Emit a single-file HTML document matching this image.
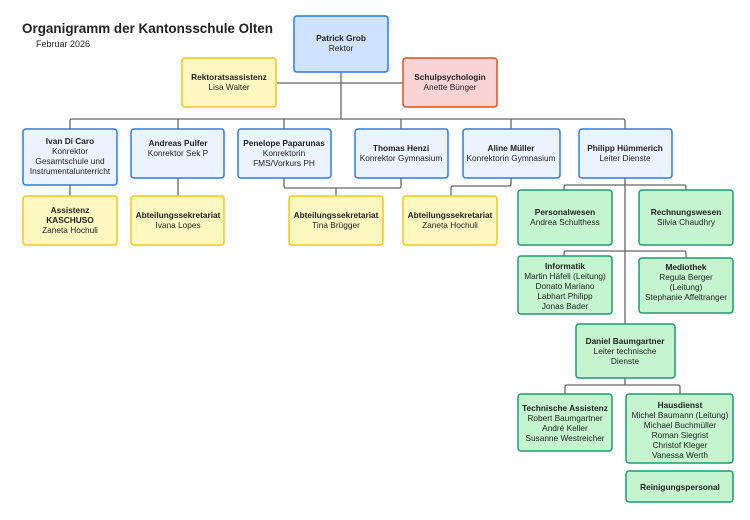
<!DOCTYPE html>
<html><head><meta charset="utf-8"><style>
html,body{margin:0;padding:0;background:#fff;}
svg{display:block;font-family:"Liberation Sans",Arial,sans-serif;}
text{font-size:8.3px;fill:#222;text-anchor:middle;}
.b{font-weight:bold;}
</style></head><body>
<svg width="750" height="520" viewBox="0 0 750 520" xmlns="http://www.w3.org/2000/svg">
<text x="22" y="33" textLength="251" lengthAdjust="spacingAndGlyphs" style="font-size:14px;font-weight:bold;text-anchor:start;fill:#222">Organigramm der Kantonsschule Olten</text>
<text x="36" y="47" style="font-size:9px;text-anchor:start">Februar 2026</text>
<g fill="none" stroke="#666" stroke-width="1.3">
<path d="M341 72V119M277 83H403M70 129V121Q70 119 72 119H623Q625 119 625 121V129M178 119V129M284 119V129M401 119V129M511 119V129"/>
<path d="M70 185V196M178 178V196M284 178V186Q284 188 286 188H399Q401 188 401 186V178M336 188V196M511 178V184Q511 186 509 186H453Q451 186 451 188V196"/>
<path d="M625 178V324M564 190V187Q564 185 566 185H684Q686 185 686 187V190M564 256V253Q564 251 566 251H684Q686 251 686 253V258M625 378V385M565 394V387Q565 385 567 385H678Q680 385 680 387V394"/>
</g>
<g stroke-width="1.5">
<rect x="294" y="16" width="94" height="56" rx="3" fill="#cfe2ff" stroke="#2a7de1"/>
<rect x="182" y="58" width="94" height="49" rx="3" fill="#fdf8c0" stroke="#f5c518"/>
<rect x="403" y="58" width="94" height="49" rx="3" fill="#fad4d4" stroke="#d9541e"/>
<g fill="#eaf3ff" stroke="#2a7de1">
<rect x="23" y="129" width="94" height="56" rx="3"/>
<rect x="131" y="129" width="93" height="49" rx="3"/>
<rect x="238" y="129" width="93" height="49" rx="3"/>
<rect x="355" y="129" width="93" height="49" rx="3"/>
<rect x="463" y="129" width="97" height="49" rx="3"/>
<rect x="579" y="129" width="93" height="49" rx="3"/>
</g>
<g fill="#fdf8c0" stroke="#f5c518">
<rect x="23" y="196" width="94" height="49" rx="3"/>
<rect x="131" y="196" width="93" height="49" rx="3"/>
<rect x="289" y="196" width="94" height="49" rx="3"/>
<rect x="403" y="196" width="94" height="49" rx="3"/>
</g>
<g fill="#c5f5cf" stroke="#1e9a75">
<rect x="518" y="190" width="94" height="55" rx="3"/>
<rect x="639" y="190" width="94" height="55" rx="3"/>
<rect x="518" y="256" width="94" height="58" rx="3"/>
<rect x="639" y="258" width="94" height="55" rx="3"/>
<rect x="576" y="324" width="99" height="54" rx="3"/>
<rect x="518" y="394" width="94" height="57" rx="3"/>
<rect x="626" y="394" width="107" height="69" rx="3"/>
<rect x="626" y="471" width="107" height="31" rx="3"/>
</g>
</g>
<text x="341" y="41" class="b">Patrick Grob</text><text x="341" y="51">Rektor</text>
<text x="229" y="80" class="b">Rektoratsassistenz</text><text x="229" y="90">Lisa Walter</text>
<text x="450" y="80" class="b">Schulpsychologin</text><text x="450" y="90">Anette Bünger</text>
<text x="70" y="144" class="b">Ivan Di Caro</text><text x="70" y="154">Konrektor</text><text x="70" y="164">Gesamtschule und</text><text x="70" y="174">Instrumentalunterricht</text>
<text x="178" y="146" class="b">Andreas Pulfer</text><text x="178" y="156">Konrektor Sek P</text>
<text x="284" y="146" class="b">Penelope Paparunas</text><text x="284" y="156">Konrektorin</text><text x="284" y="166">FMS/Vorkurs PH</text>
<text x="401" y="151" class="b">Thomas Henzi</text><text x="401" y="161">Konrektor Gymnasium</text>
<text x="511" y="151" class="b">Aline Müller</text><text x="511" y="161">Konrektorin Gymnasium</text>
<text x="625" y="151" class="b">Philipp Hümmerich</text><text x="625" y="161">Leiter Dienste</text>
<text x="70" y="213" class="b">Assistenz</text><text x="70" y="223" class="b">KASCHUSO</text><text x="70" y="233">Zaneta Hochuli</text>
<text x="178" y="218" class="b">Abteilungssekretariat</text><text x="178" y="228">Ivana Lopes</text>
<text x="336" y="218" class="b">Abteilungssekretariat</text><text x="336" y="228">Tina Brügger</text>
<text x="450" y="218" class="b">Abteilungssekretariat</text><text x="450" y="228">Zaneta Hochuli</text>
<text x="565" y="215" class="b">Personalwesen</text><text x="565" y="225">Andrea Schulthess</text>
<text x="686" y="215" class="b">Rechnungswesen</text><text x="686" y="225">Silvia Chaudhry</text>
<text x="565" y="269" class="b">Informatik</text><text x="565" y="279">Martin Häfeli (Leitung)</text><text x="565" y="289">Donato Mariano</text><text x="565" y="299">Labhart Philipp</text><text x="565" y="309">Jonas Bader</text>
<text x="686" y="270" class="b">Mediothek</text><text x="686" y="280">Regula Berger</text><text x="686" y="290">(Leitung)</text><text x="686" y="300">Stephanie Affeltranger</text>
<text x="625" y="344" class="b">Daniel Baumgartner</text><text x="625" y="354">Leiter technische</text><text x="625" y="364">Dienste</text>
<text x="565" y="411" class="b">Technische Assistenz</text><text x="565" y="421">Robert Baumgartner</text><text x="565" y="431">André Keller</text><text x="565" y="441">Susanne Westreicher</text>
<text x="680" y="408" class="b">Hausdienst</text><text x="680" y="418">Michel Baumann (Leitung)</text><text x="680" y="428">Michael  Buchmüller</text><text x="680" y="438">Roman Siegrist</text><text x="680" y="448">Christof Kleger</text><text x="680" y="458">Vanessa Werth</text>
<text x="680" y="490" class="b">Reinigungspersonal</text>
</svg>
</body></html>
